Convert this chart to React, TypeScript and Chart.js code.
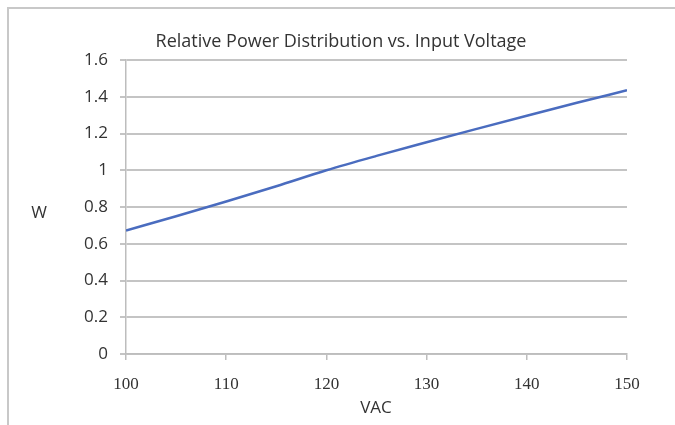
import React, { useEffect, useRef } from "react";
import { Chart, registerables } from "chart.js";

Chart.register(...registerables);

const voltages = [100, 105, 110, 115, 120, 125, 130, 135, 140, 145, 150];
const power = [0.672, 0.75, 0.83, 0.913, 1.0, 1.078, 1.152, 1.225, 1.297, 1.367, 1.435];
const titleText = "Relative Power Distribution vs. Input Voltage";
const yAxisLabel = "W";
const xAxisLabel = "VAC";

const W = 675;
const H = 425;

const framePlugin = {
  id: "frameAndText",
  beforeDraw(chart: any) {
    const ctx = chart.ctx;
    ctx.save();
    ctx.fillStyle = "#ffffff";
    ctx.fillRect(0, 0, W, H);
    ctx.strokeStyle = "#c8c8c8";
    ctx.lineWidth = 2;
    ctx.beginPath();
    ctx.moveTo(W, 8);
    ctx.lineTo(8, 8);
    ctx.lineTo(8, H);
    ctx.stroke();
    ctx.restore();
  },
  afterDraw(chart: any) {
    const ctx = chart.ctx;
    ctx.save();
    ctx.fillStyle = "#333333";
    ctx.textAlign = "center";
    ctx.textBaseline = "middle";
    ctx.font = "18px 'Open Sans'";
    ctx.fillText(titleText, 341, 42);
    ctx.font = "17px 'Open Sans'";
    ctx.fillText(yAxisLabel, 39, 213);
    ctx.fillText(xAxisLabel, 376, 408);
    ctx.restore();
  },
};

export default function App() {
  const ref = useRef<HTMLCanvasElement | null>(null);
  useEffect(() => {
    if (!ref.current) return;
    const chart = new Chart(ref.current, {
      type: "line",
      data: {
        datasets: [
          {
            data: voltages.map((v, i) => ({ x: v, y: power[i] })),
            borderColor: "#4a6cbf",
            borderWidth: 2.5,
            pointRadius: 0,
            cubicInterpolationMode: "monotone",
            fill: false,
          },
        ],
      },
      options: {
        responsive: false,
        animation: false,
        layout: { padding: { top: 60, right: 48, left: 0, bottom: 0 } },
        plugins: {
          legend: { display: false },
          title: { display: false },
          tooltip: { enabled: false },
        },
        scales: {
          x: {
            type: "linear",
            min: 100,
            max: 150,
            afterFit: (s: any) => {
              s.height = 71;
            },
            ticks: {
              stepSize: 10,
              color: "#333333",
              font: { family: "'Liberation Serif'", size: 17 },
              padding: 14,
            },
            grid: {
              display: true,
              drawOnChartArea: false,
              drawTicks: true,
              tickLength: 6,
              color: "#bdbdbd",
              lineWidth: 1.5,
            },
            border: { color: "#bdbdbd", width: 1.5 },
          },
          y: {
            min: 0,
            max: 1.6,
            afterFit: (s: any) => {
              s.width = 126;
            },
            ticks: {
              stepSize: 0.2,
              color: "#333333",
              font: { family: "'Open Sans'", size: 17 },
              padding: 12,
              callback: (v: any) => String(Number(Number(v).toFixed(1))),
            },
            grid: {
              color: "#c4c4c4",
              lineWidth: 2,
              tickLength: 6,
              drawTicks: true,
            },
            border: { color: "#bdbdbd", width: 1.5 },
          },
        },
      },
      plugins: [framePlugin],
    });
    return () => chart.destroy();
  }, []);
  return (
    <div style={{ position: "absolute", left: 0, top: 0, width: W, height: H }}>
      <canvas ref={ref} width={W} height={H} style={{ display: "block", width: W, height: H }} />
    </div>
  );
}
